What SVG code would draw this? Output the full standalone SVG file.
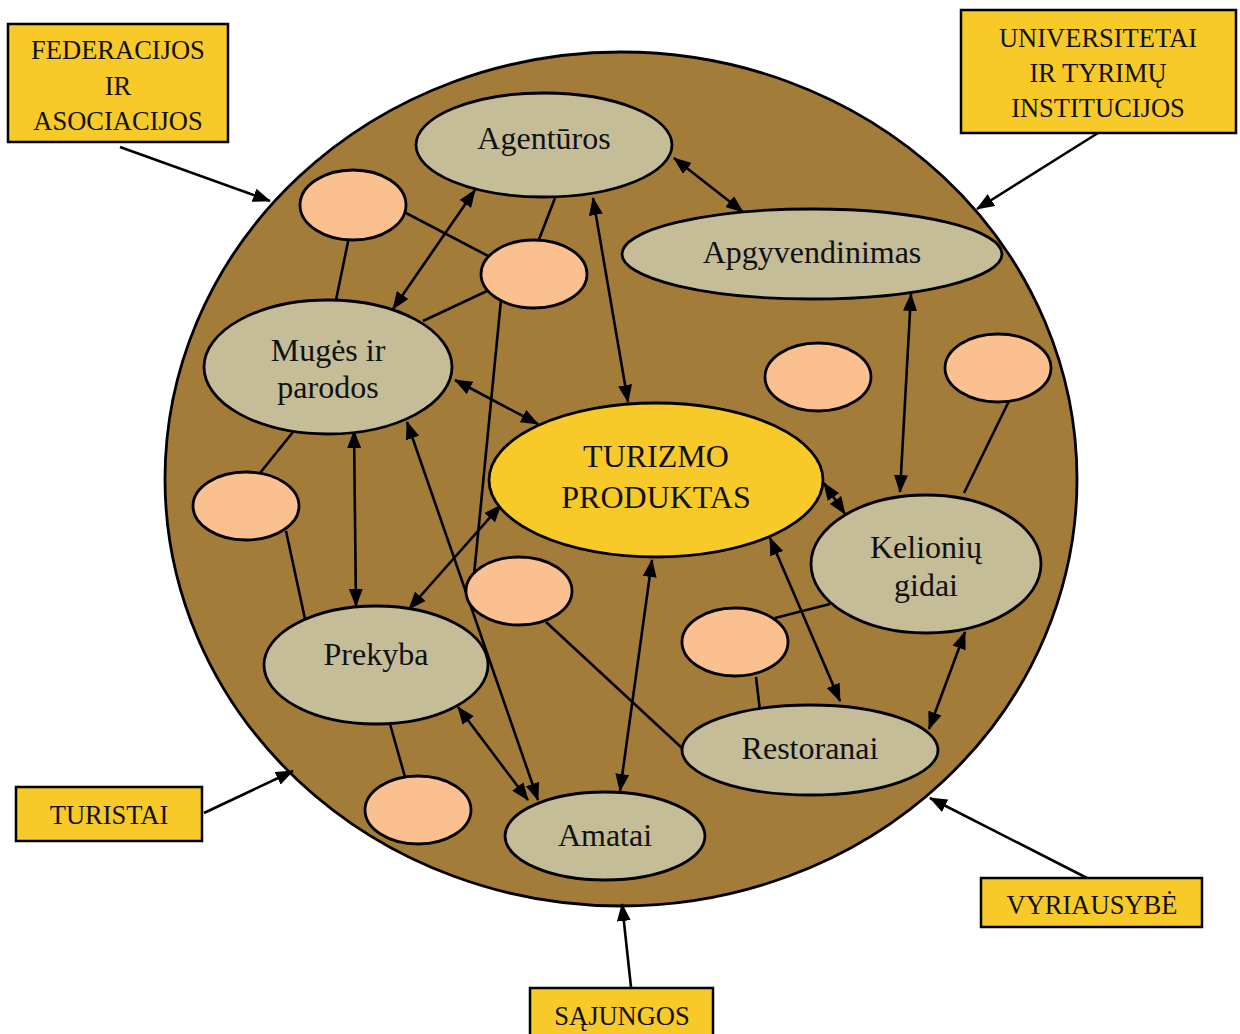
<svg xmlns="http://www.w3.org/2000/svg" width="1240" height="1034" viewBox="0 0 1240 1034">
<style>
.big{fill:#A47C3A;stroke:#000;stroke-width:2.8}
.node{fill:#C4BD97;stroke:#000;stroke-width:2.8}
.core{fill:#F7CA2A;stroke:#000;stroke-width:2.8}
.dot{fill:#FAC090;stroke:#000;stroke-width:2.8}
.box{fill:#F7CA2A;stroke:#000;stroke-width:2.5}
.t{font-family:"Liberation Serif","Times New Roman",serif;font-size:32px;fill:#111;text-anchor:middle}
.bt{font-family:"Liberation Serif","Times New Roman",serif;font-size:26.5px;fill:#111;text-anchor:middle}
.ln{stroke:#000;stroke-width:2.6;fill:none}
.dbl{stroke:#000;stroke-width:2.6;fill:none;marker-start:url(#ah);marker-end:url(#ah)}
.sgl{stroke:#000;stroke-width:2.6;fill:none;marker-end:url(#ah)}
</style>
<defs>
<marker id="ah" markerUnits="userSpaceOnUse" markerWidth="18" markerHeight="14" viewBox="0 0 18 14" refX="17" refY="7" orient="auto-start-reverse">
<path d="M0,0 L18,7 L0,14 Z" fill="#000"/>
</marker>
</defs>
<rect width="1240" height="1034" fill="#fff"/>
<g id="ring"><ellipse class="big" cx="621" cy="479" rx="456" ry="427"/></g>
<g id="connectors">
<line class="ln" x1="349" y1="237" x2="336" y2="300"/>
<line class="ln" x1="406" y1="213" x2="492" y2="258"/>
<line class="ln" x1="538" y1="242" x2="555" y2="198"/>
<line class="ln" x1="487" y1="291" x2="423" y2="321"/>
<line class="ln" x1="501" y1="300" x2="474" y2="575"/>
<line class="ln" x1="1009" y1="401" x2="964" y2="493"/>
<line class="ln" x1="260" y1="473" x2="293" y2="432"/>
<line class="ln" x1="286" y1="531" x2="305" y2="619"/>
<line class="ln" x1="405" y1="777" x2="390" y2="724"/>
<line class="ln" x1="546" y1="622" x2="682" y2="748"/>
<line class="ln" x1="775" y1="618" x2="830" y2="604"/>
<line class="ln" x1="756" y1="677" x2="760" y2="711"/>
<line class="dbl" x1="674" y1="158" x2="743" y2="212"/>
<line class="dbl" x1="593" y1="198" x2="628" y2="402"/>
<line class="dbl" x1="475" y1="190" x2="393" y2="309"/>
<line class="dbl" x1="455" y1="380" x2="538" y2="424"/>
<line class="dbl" x1="354" y1="431" x2="356" y2="606"/>
<line class="dbl" x1="407" y1="422" x2="538" y2="800"/>
<line class="dbl" x1="501" y1="505" x2="409" y2="609"/>
<line class="dbl" x1="911" y1="294" x2="900" y2="492"/>
<line class="dbl" x1="824" y1="483" x2="845" y2="514"/>
<line class="dbl" x1="770" y1="538" x2="840" y2="701"/>
<line class="dbl" x1="652" y1="560" x2="620" y2="791"/>
<line class="dbl" x1="458" y1="707" x2="528" y2="800"/>
<line class="dbl" x1="965" y1="632" x2="929" y2="729"/>
<line class="sgl" x1="120" y1="147" x2="270" y2="201"/>
<line class="sgl" x1="1098" y1="133" x2="977" y2="209"/>
<line class="sgl" x1="204" y1="813" x2="293" y2="771"/>
<line class="sgl" x1="1087" y1="878" x2="930" y2="798"/>
<line class="sgl" x1="631" y1="987" x2="622" y2="904"/>
</g>
<g id="dot1"><ellipse class="dot" cx="353" cy="205" rx="53" ry="35"/></g>
<g id="dot2"><ellipse class="dot" cx="534" cy="274" rx="53" ry="34"/></g>
<g id="dot3"><ellipse class="dot" cx="818" cy="377" rx="53" ry="34"/></g>
<g id="dot4"><ellipse class="dot" cx="998" cy="368" rx="53" ry="34"/></g>
<g id="dot5"><ellipse class="dot" cx="246" cy="506" rx="53" ry="34"/></g>
<g id="dot6"><ellipse class="dot" cx="519" cy="591" rx="53" ry="34"/></g>
<g id="dot7"><ellipse class="dot" cx="735" cy="642" rx="53" ry="34"/></g>
<g id="dot8"><ellipse class="dot" cx="418" cy="810" rx="53" ry="34"/></g>
<g id="agenturos"><ellipse class="node" cx="544" cy="145" rx="128" ry="52"/><text class="t" x="544" y="149">Agentūros</text></g>
<g id="apgyvendinimas"><ellipse class="node" cx="812" cy="254" rx="190" ry="45"/><text class="t" x="812" y="263">Apgyvendinimas</text></g>
<g id="muges"><ellipse class="node" cx="328" cy="367" rx="124" ry="67"/><text class="t" x="328" y="361">Mugės ir</text><text class="t" x="328" y="398">parodos</text></g>
<g id="turizmo"><ellipse class="core" cx="656" cy="480" rx="167" ry="77"/><text class="t" x="656" y="467">TURIZMO</text><text class="t" x="656" y="508">PRODUKTAS</text></g>
<g id="gidai"><ellipse class="node" cx="926" cy="564" rx="115" ry="69"/><text class="t" x="926" y="558">Kelionių</text><text class="t" x="926" y="596">gidai</text></g>
<g id="prekyba"><ellipse class="node" cx="376" cy="665" rx="112" ry="59"/><text class="t" x="376" y="665">Prekyba</text></g>
<g id="restoranai"><ellipse class="node" cx="810" cy="750" rx="128" ry="45"/><text class="t" x="810" y="759">Restoranai</text></g>
<g id="amatai"><ellipse class="node" cx="605" cy="836" rx="100" ry="44"/><text class="t" x="605" y="846">Amatai</text></g>
<g id="federacijos"><rect class="box" x="8" y="24" width="220" height="118"/><text class="bt" x="118" y="59">FEDERACIJOS</text><text class="bt" x="118" y="95">IR</text><text class="bt" x="118" y="130">ASOCIACIJOS</text></g>
<g id="universitetai"><rect class="box" x="961" y="10" width="275" height="123"/><text class="bt" x="1098" y="47">UNIVERSITETAI</text><text class="bt" x="1098" y="82">IR TYRIMŲ</text><text class="bt" x="1098" y="117">INSTITUCIJOS</text></g>
<g id="turistai"><rect class="box" x="16" y="787" width="186" height="54"/><text class="bt" x="109" y="824">TURISTAI</text></g>
<g id="vyriausybe"><rect class="box" x="981" y="878" width="221" height="49"/><text class="bt" x="1092" y="914">VYRIAUSYBĖ</text></g>
<g id="sajungos"><rect class="box" x="530" y="988" width="183" height="50"/><text class="bt" x="622" y="1025">SĄJUNGOS</text></g>
</svg>
